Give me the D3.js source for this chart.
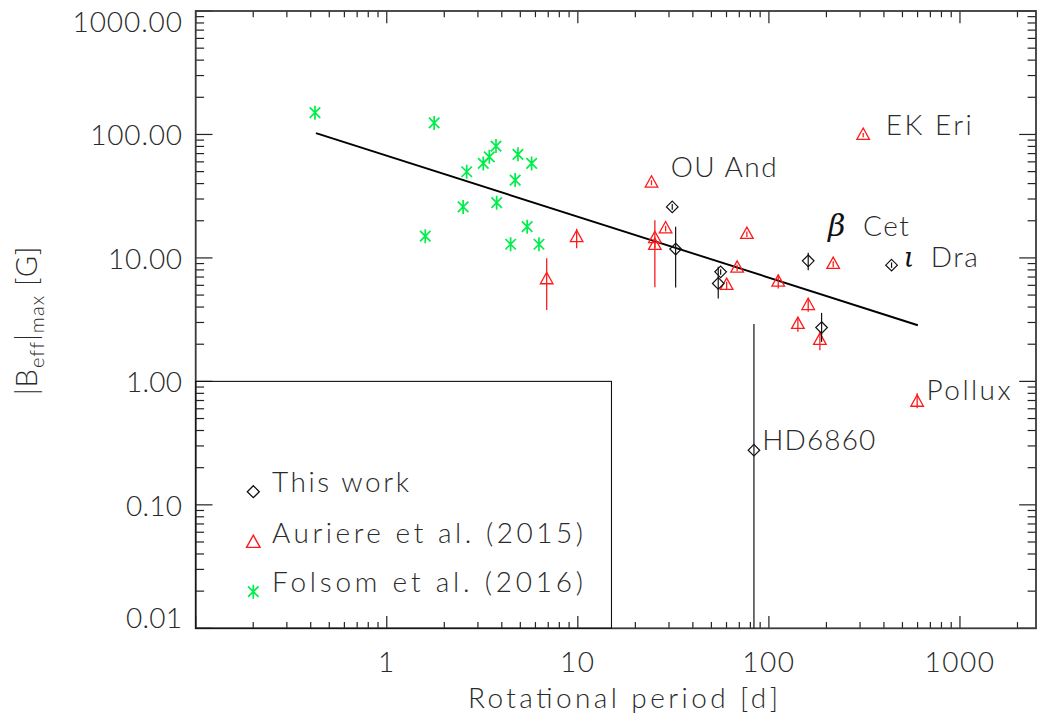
<!DOCTYPE html>
<html><head><meta charset="utf-8">
<script src="https://cdn.jsdelivr.net/npm/d3@7"></script>
<style>body{margin:0;background:#fff} svg{display:block}</style>
</head><body>
<svg id="c" width="1049" height="720"></svg>
<script>
// ---------------- data ----------------
// This work (black diamonds)
const thisWorkPeriod = [31.2, 32.5, 55.9, 54.3, 160.6, 438.5, 188.7, 83.5];
const thisWorkB      = [25.9, 11.8, 7.71, 6.21, 9.47, 8.74, 2.73, 0.277];
const thisWorkBHi    = [27.3, 17.9, 8.1, 8.47, 11.0, 9.2, 3.59, 2.91];
const thisWorkBLo    = [24.5, 5.77, 7.3, 4.70, 7.96, 8.3, 2.09, 0.001];

// Auriere et al. (2015) (red triangles)
const auriPeriod = [6.87, 9.86, 24.3, 25.3, 25.3, 28.8, 76.7, 68.2, 60.1, 111.9, 160.6, 141.8, 184.9, 217, 311.5, 597];
const auriB      = [6.70, 14.7, 40.6, 14.4, 12.7, 17.3, 15.6, 8.31, 6.02, 6.40, 4.14, 2.91, 2.16, 8.91, 98.9, 0.682];
const auriBHi    = [9.96, 17.2, 42.5, 20.2, 13.4, 18.2, 16.4, 8.8, 6.4, 7.26, 4.72, 3.33, 2.52, 9.4, 103, 0.802];
const auriBLo    = [3.78, 12.0, 38.8, 5.8, 12.0, 16.4, 14.8, 7.8, 5.6, 5.66, 3.66, 2.52, 1.79, 8.4, 95, 0.607];

// Folsom et al. (2016) (green asterisks)
const folsomPeriod = [0.421, 1.77, 2.62, 2.51, 1.59, 3.20, 3.44, 3.73, 4.86, 5.73, 4.70, 3.76, 5.43, 4.45, 6.26];
const folsomB      = [150, 124, 49.9, 25.9, 15.0, 58.3, 65.9, 80.5, 69.0, 58.3, 42.7, 28.0, 17.9, 12.9, 12.9];

// fitted relation (end points)
const fitPeriod = [0.426, 602];
const fitB      = [102.6, 2.85];

// star name annotations (anchor in data coordinates)
const starNames   = ["OU And", "EK Eri", "Cet", "Dra", "Pollux", "HD6860"];
const starGreek   = ["", "", "β", "ι", "", ""];
const starPeriod  = [30.6, 409, 203.6, 508.6, 668.7, 92.3];
const starB       = [44.9, 98.9, 15.0, 8.47, 0.704, 0.277];

// legend box (data coordinates)
const boxPeriod = [0.1, 15];
const boxB      = [0.01, 1];

const legendLabels = ["This work", "Auriere et al. (2015)", "Folsom et al. (2016)"];

const xDomain = [0.1, 2500];
const yDomain = [0.01, 1000];
const xTickValues = [1, 10, 100, 1000];
const xTickLabels = ["1", "10", "100", "1000"];
const yTickValues = [1000, 100, 10, 1, 0.1, 0.01];
const yTickLabels = ["1000.00", "100.00", "10.00", "1.00", "0.10", "0.01"];

// ---------------- drawing ----------------
const svg = d3.select("#c");
const L = 195.7, R = 1036, T = 11, B = 628.3;
const x = d3.scaleLog().domain(xDomain).range([L, R]);
const y = d3.scaleLog().domain(yDomain).range([B, T]);
const FONT = "Lato, 'DejaVu Sans', sans-serif";
const FW = 300;
const FS = 28;
const TXT = "#2a2a2a";
const RED = "#ff1a1a", GREEN = "#00ee4a", BLACK = "#111";

function minorTicks(dom) {
  const out = [];
  const e0 = Math.floor(Math.log10(dom[0])), e1 = Math.ceil(Math.log10(dom[1]));
  for (let e = e0; e <= e1; e++) {
    for (let k = 2; k <= 9; k++) {
      const v = k * Math.pow(10, e);
      if (v > dom[0] && v < dom[1]) out.push(v);
    }
  }
  return out;
}
const xMinor = minorTicks(xDomain), yMinor = minorTicks(yDomain);
const xMajorAll = [0.1, 1, 10, 100, 1000];

const ax = svg.append("g").attr("stroke", "#222").attr("stroke-width", 1.2);
const xMajLen = 12.3, xMinLen = 6.2, yMajLen = 16.8, yMinLen = 8.4;
xMajorAll.forEach(v => {
  ax.append("line").attr("x1", x(v)).attr("x2", x(v)).attr("y1", B).attr("y2", B - xMajLen);
  ax.append("line").attr("x1", x(v)).attr("x2", x(v)).attr("y1", T).attr("y2", T + xMajLen);
});
xMinor.forEach(v => {
  ax.append("line").attr("x1", x(v)).attr("x2", x(v)).attr("y1", B).attr("y2", B - xMinLen);
  ax.append("line").attr("x1", x(v)).attr("x2", x(v)).attr("y1", T).attr("y2", T + xMinLen);
});
yTickValues.forEach(v => {
  ax.append("line").attr("x1", L).attr("x2", L + yMajLen).attr("y1", y(v)).attr("y2", y(v));
  ax.append("line").attr("x1", R).attr("x2", R - yMajLen).attr("y1", y(v)).attr("y2", y(v));
});
yMinor.forEach(v => {
  ax.append("line").attr("x1", L).attr("x2", L + yMinLen).attr("y1", y(v)).attr("y2", y(v));
  ax.append("line").attr("x1", R).attr("x2", R - yMinLen).attr("y1", y(v)).attr("y2", y(v));
});
svg.append("rect").attr("x", L).attr("y", T).attr("width", R - L).attr("height", B - T)
  .attr("fill", "none").attr("stroke", "#3a3a3a").attr("stroke-width", 1.8);

// tick labels
const xl = svg.append("g").attr("font-family", FONT).attr("font-weight", FW)
  .attr("font-size", FS).attr("fill", TXT).attr("letter-spacing", 1.5);
xTickValues.forEach((v, i) => {
  xl.append("text").attr("x", x(v)).attr("y", 672).attr("text-anchor", "middle").text(xTickLabels[i]);
});
yTickValues.forEach((v, i) => {
  let by = y(v) + 11;
  by = Math.max(by, T + 20.7);
  by = Math.min(by, B);
  const s = yTickLabels[i];
  const w = (s.length - 1) * 17.8 + 8.2 - 4;
  xl.append("text").attr("x", 183.5).attr("y", by).attr("text-anchor", "end")
    .attr("textLength", w).attr("lengthAdjust", "spacing")
    .text(s);
});

// axis titles
svg.append("text").attr("x", 623).attr("y", 708).attr("text-anchor", "middle")
  .attr("font-family", FONT).attr("font-weight", FW).attr("font-size", FS).attr("fill", TXT)
  .attr("textLength", 310).attr("lengthAdjust", "spacing")
  .text("Rotational period [d]");

const yt = svg.append("text").attr("transform", "translate(37,320.5) rotate(-90)")
  .attr("text-anchor", "middle").attr("font-family", FONT).attr("font-weight", FW)
  .attr("font-size", 29).attr("fill", TXT).attr("letter-spacing", 1);
yt.append("tspan").text("|B");
yt.append("tspan").attr("font-size", 20).attr("dy", 7).text("eff");
yt.append("tspan").attr("dy", -7).text("|");
yt.append("tspan").attr("font-size", 20).attr("dy", 7).text("max");
yt.append("tspan").attr("dy", -7).text("  [G]");

// legend box
svg.append("rect").attr("x", x(boxPeriod[0])).attr("y", y(boxB[1]))
  .attr("width", x(boxPeriod[1]) - x(boxPeriod[0])).attr("height", y(boxB[0]) - y(boxB[1]))
  .attr("fill", "none").attr("stroke", BLACK).attr("stroke-width", 1.1);

svg.append("clipPath").attr("id", "clip").append("rect")
  .attr("x", L).attr("y", T).attr("width", R - L).attr("height", B - T);
const plot = svg.append("g").attr("clip-path", "url(#clip)");

// fit line
const fitData = fitPeriod.map((p, i) => [p, fitB[i]]);
plot.append("path").datum(fitData)
  .attr("d", d3.line().x(d => x(d[0])).y(d => y(d[1])))
  .attr("fill", "none").attr("stroke", "#000").attr("stroke-width", 1.9);

const diamond = r => `M0,${-r}L${r},0L0,${r}L${-r},0Z`;
const triangle = r => `M0,${-r}L${r * 0.9},${r * 0.62}L${-r * 0.9},${r * 0.62}Z`;
const asterisk = r => {
  const a = r * 0.75;
  return `M0,${-r}L0,${r}M${-a},${-a}L${a},${a}M${-a},${a}L${a},${-a}`;
};

folsomPeriod.forEach((p, i) => {
  plot.append("path").attr("transform", `translate(${x(p)},${y(folsomB[i])})`)
    .attr("d", asterisk(7)).attr("stroke", GREEN).attr("stroke-width", 1.7).attr("fill", "none");
});

auriPeriod.forEach((p, i) => {
  plot.append("line").attr("x1", x(p)).attr("x2", x(p))
    .attr("y1", y(auriBHi[i])).attr("y2", y(auriBLo[i]))
    .attr("stroke", RED).attr("stroke-width", 1.3);
  plot.append("path").attr("transform", `translate(${x(p)},${y(auriB[i])})`)
    .attr("d", triangle(7)).attr("stroke", RED).attr("stroke-width", 1.3).attr("fill", "none");
});

thisWorkPeriod.forEach((p, i) => {
  plot.append("line").attr("x1", x(p)).attr("x2", x(p))
    .attr("y1", y(thisWorkBHi[i])).attr("y2", y(thisWorkBLo[i]))
    .attr("stroke", BLACK).attr("stroke-width", 1.2);
  plot.append("path").attr("transform", `translate(${x(p)},${y(thisWorkB[i])})`)
    .attr("d", diamond(5.8)).attr("stroke", BLACK).attr("stroke-width", 1.2).attr("fill", "none");
});

// star name labels
const nameWidths = [106, 86, 46, 47, 84, 113];
const greekGap = [0, 0, 35, 27, 0, 0];
starNames.forEach((n, i) => {
  const px = x(starPeriod[i]), py = y(starB[i]);
  if (starGreek[i]) {
    svg.append("text").attr("x", px).attr("y", py)
      .attr("font-family", "'DejaVu Serif', serif").attr("font-style", "italic")
      .attr("font-size", starGreek[i] === "β" ? 30 : 27).attr("fill", "#111").text(starGreek[i]);
  }
  svg.append("text").attr("x", px + greekGap[i]).attr("y", py)
    .attr("font-family", FONT).attr("font-weight", FW).attr("font-size", FS).attr("fill", TXT)
    .attr("textLength", nameWidths[i]).attr("lengthAdjust", "spacing").text(n);
});

// legend
const legRows = [491.7, 542.7, 591.7];
const legSym = [
  g => g.append("path").attr("d", diamond(6)).attr("stroke", BLACK).attr("stroke-width", 1.3).attr("fill", "none"),
  g => g.append("path").attr("d", triangle(7.5)).attr("stroke", RED).attr("stroke-width", 1.4).attr("fill", "none"),
  g => g.append("path").attr("d", asterisk(7)).attr("stroke", GREEN).attr("stroke-width", 1.7).attr("fill", "none")
];
const legWidths = [137, 311, 311];
legendLabels.forEach((t, i) => {
  const g = svg.append("g").attr("transform", `translate(253.3,${legRows[i]})`);
  legSym[i](g);
  svg.append("text").attr("x", 272).attr("y", legRows[i])
    .attr("font-family", FONT).attr("font-weight", FW).attr("font-size", FS).attr("fill", TXT)
    .attr("textLength", legWidths[i]).attr("lengthAdjust", "spacing").text(t);
});
</script>
</body></html>
